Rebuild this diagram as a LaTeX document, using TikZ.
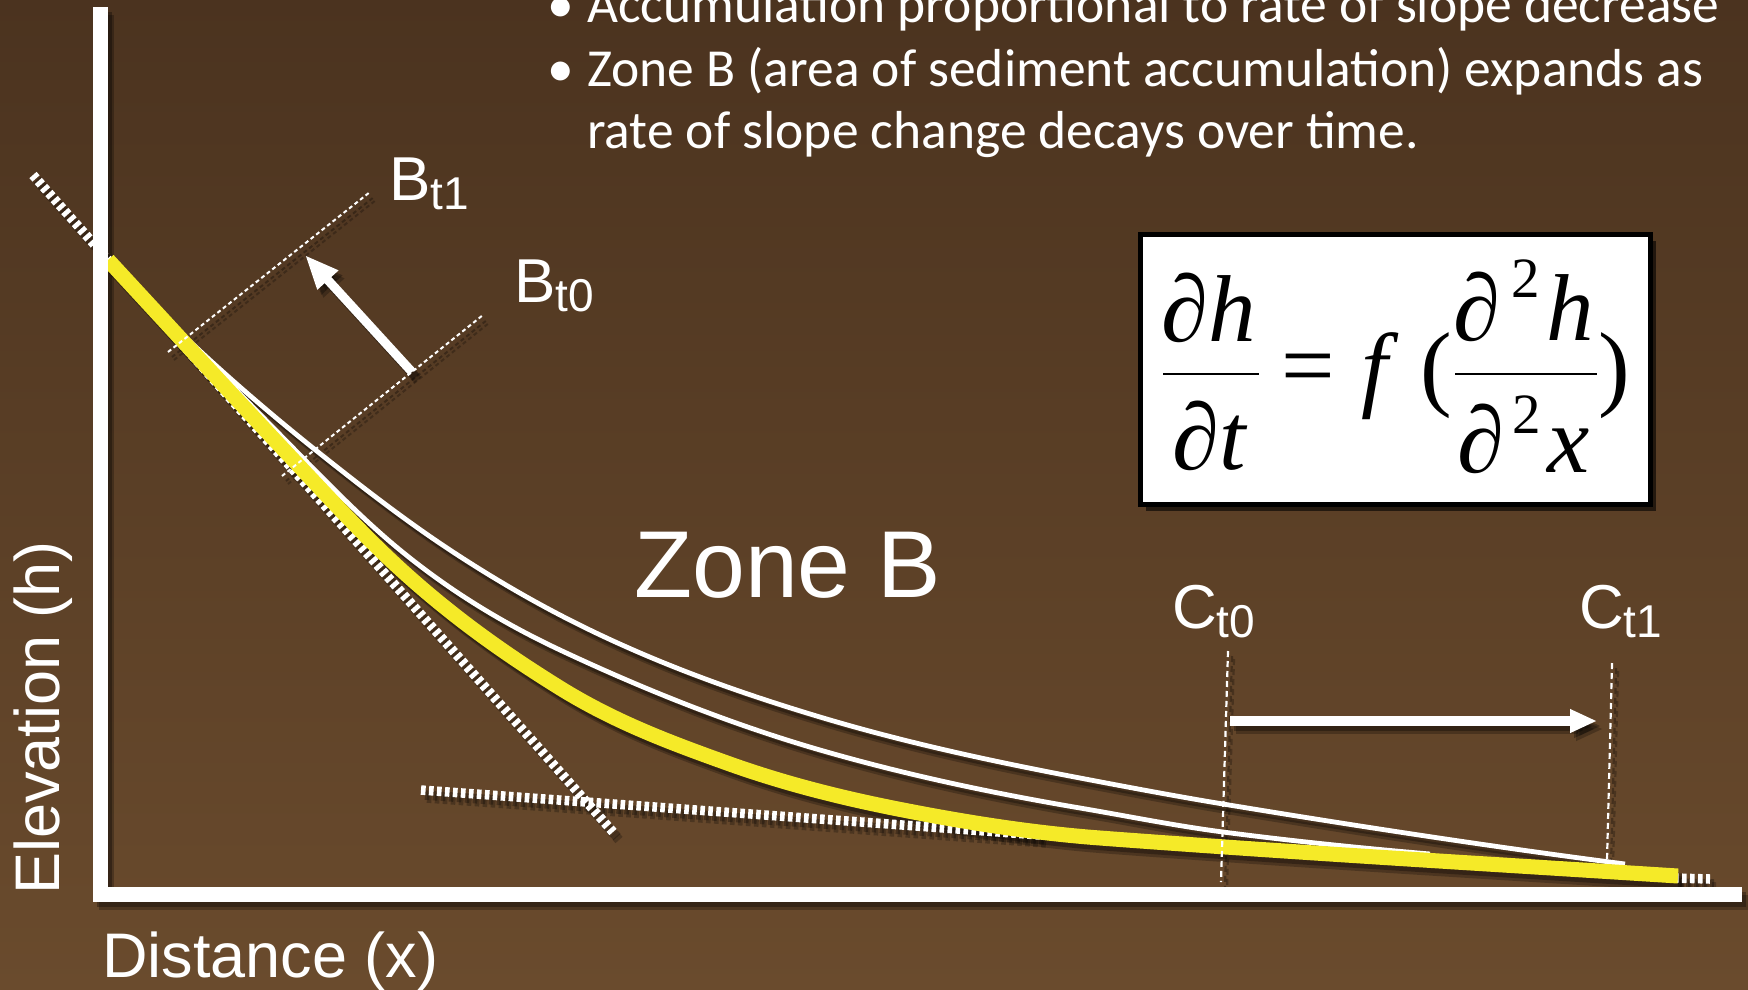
\documentclass[tikz,border=0pt]{standalone}
\usepackage{fontspec}
\setmainfont{Liberation Sans}
\newfontfamily\bulletfont{Carlito}
\newfontfamily\eqfont{Liberation Serif}
\usetikzlibrary{arrows.meta,shadows}
\definecolor{bgtop}{RGB}{75,51,31}
\definecolor{bgbot}{RGB}{106,75,45}
\definecolor{slopeyellow}{RGB}{245,234,40}
\colorlet{lw}{white}
\colorlet{ly}{slopeyellow}
\newcommand\lblsub[1]{\raisebox{-9pt}{\fontsize{46}{46}\selectfont #1}}
\newcommand\scenelines{%
  \draw[hatchline] (h1a) -- (h1b);
  \draw[hatchline] (h2a) -- (h2b);
  \draw[hatchline] (h3a) -- (h3b);
  \draw[profile] (183,335) .. controls (226.33,376.2) and (269.67,413.3) .. (313,448)
     .. controls (358.67,484.5) and (404.33,519.9) .. (450,550)
     .. controls (486.67,574.2) and (523.33,595.9) .. (560,615)
     .. controls (646.67,660.1) and (733.33,691) .. (820,717)
     .. controls (906.67,743) and (993.33,761.5) .. (1080,778)
     .. controls (1127.67,787.1) and (1175.33,796.1) .. (1223,804)
     .. controls (1357,826.1) and (1491,846.6) .. (1625,864);
  \draw[profile] (183,335) .. controls (222,376) and (261,415.2) .. (300,455)
     .. controls (333.33,489) and (366.67,522.7) .. (400,550)
     .. controls (453.33,593.7) and (506.67,624.9) .. (560,650)
     .. controls (646.67,690.7) and (733.33,724.9) .. (820,750)
     .. controls (906.67,775.1) and (993.33,793.3) .. (1080,808)
     .. controls (1127.67,816.1) and (1175.33,825.8) .. (1223,832)
     .. controls (1292,841) and (1361,848.1) .. (1430,854);
  \draw[yellowline] (108,260) .. controls (172,329.1) and (236,399.2) .. (300,467)
     .. controls (326.67,495.3) and (353.33,524.1) .. (380,550)
     .. controls (440,608.2) and (500,650.8) .. (560,688)
     .. controls (615.67,722.5) and (671.33,743) .. (727,763)
     .. controls (782.33,782.9) and (837.67,796.9) .. (893,808)
     .. controls (962,821.8) and (1031,832.8) .. (1100,838)
     .. controls (1292.67,852.45) and (1485.33,863.7) .. (1678,876);
  \draw[axisline] (100,7) -- (100,894) -- (1742,894);
  \draw[dotline] (bt1a) -- (bt1b);
  \draw[dotline] (bt0a) -- (bt0b);
  \draw[slantarrow] (barrs) -- (barre);
  \draw[vdash] (ct0a) -- (ct0b);
  \draw[vdash] (ct1a) -- (ct1b);
  \draw[bigarrow] (carrs) -- (carre);
}
\begin{document}
\begin{tikzpicture}[x=1pt,y=-1pt,
  hatchline/.style={draw=lw,line width=9.5pt,dash pattern=on 4.6pt off 3.4pt},
  dotline/.style={draw=lw,line width=2pt,dash pattern=on 4pt off 3pt},
  vdash/.style={draw=lw,line width=2.2pt,dash pattern=on 6pt off 4pt},
  profile/.style={draw=lw,line width=4.8pt},
  yellowline/.style={draw=ly,line width=15pt},
  axisline/.style={draw=lw,line width=15pt},
  bigarrow/.style={draw=lw,line width=10pt,-{Triangle[length=27pt,width=22pt]}},
  slantarrow/.style={draw=lw,line width=9pt,-{Triangle[length=34pt,width=26pt]}},
  lbl/.style={text=white,inner sep=0pt,font=\fontsize{62}{72}\selectfont},
  axislbl/.style={text=white,inner sep=0pt,font=\fontsize{63}{75}\selectfont},
  zonelbl/.style={text=white,inner sep=0pt,font=\fontsize{95}{110}\selectfont},
  bul/.style={text=white,inner sep=0pt,font=\bulletfont\fontsize{53.5}{64}\selectfont},
  eq/.style={text=black,inner sep=0pt,font=\eqfont\fontsize{95}{100}\selectfont},
  eqsup/.style={text=black,inner sep=0pt,font=\eqfont\fontsize{57}{60}\selectfont},
]
% background
\shade[top color=bgtop,bottom color=bgbot] (0,0) rectangle (1748,989);
\useasboundingbox (0,0) rectangle (1748,989);

% named points
\coordinate (h1a) at (33,175);
\coordinate (h1b) at (613,832);
\coordinate (h2a) at (421,790);
\coordinate (h2b) at (1040,835);
\coordinate (h3a) at (1674,878);
\coordinate (h3b) at (1710,879);
\coordinate (bt1a) at (168,352);
\coordinate (bt1b) at (370,192);
\coordinate (bt0a) at (282,476);
\coordinate (bt0b) at (483,315);
\coordinate (barrs) at (412,372);
\coordinate (barre) at (305,255);
\coordinate (ct0a) at (1228,651);
\coordinate (ct0b) at (1221,882);
\coordinate (ct1a) at (1612,663);
\coordinate (ct1b) at (1607,860);
\coordinate (carrs) at (1230,721);
\coordinate (carre) at (1597,721);

% soft shadows (two passes)
\begin{scope}[transform canvas={shift={(6,8)}},opacity=0.25]
  \colorlet{lw}{black}\colorlet{ly}{black}
  \scenelines
\end{scope}
\begin{scope}[transform canvas={shift={(4,5)}},opacity=0.3]
  \colorlet{lw}{black}\colorlet{ly}{black}
  \scenelines
\end{scope}
% lines
\scenelines

% labels
\node[lbl,anchor=base west] (bt1) at (389,200) {B\lblsub{t1}};
\node[lbl,anchor=base west] (bt0) at (514,302) {B\lblsub{t0}};
\node[lbl,anchor=base west] (ct0) at (1172,628) {C\lblsub{t0}};
\node[lbl,anchor=base west] (ct1) at (1579,628) {C\lblsub{t1}};
\node[zonelbl,anchor=base west] (zone) at (634,597) {Zone B};
\node[axislbl,anchor=base west] (dist) at (102,977) {Distance (x)};
\node[axislbl,anchor=base west,rotate=90] (elev) at (59,895) {Elevation (h)};

% bullets
\node[bul,anchor=base] (b1) at (561,22) {•};
\node[bul,anchor=base west] (l1) at (587,22) {Accumulation proportional to rate of slope decrease};
\node[bul,anchor=base] (b2) at (561,86) {•};
\node[bul,anchor=base west] (l2) at (587,86) {Zone B (area of sediment accumulation) expands as};
\node[bul,anchor=base west] (l3) at (587,148) {rate of slope change decays over time.};

% equation box
\node[draw=black,line width=5pt,fill=white,inner sep=0pt,minimum width=510pt,minimum height=270pt,
  drop shadow={shadow xshift=5pt,shadow yshift=-6pt,opacity=0.6,fill=black}] (box) at (1395.5,369.5) {};
\draw[line width=2pt] (1163,374) -- (1259,374);
\draw[line width=2pt] (1455,374) -- (1597,374);
\node[eq,anchor=base] (n1) at (1209,341) {\textit{∂h}};
\node[eq,anchor=base] (d1) at (1210,469) {\textit{∂t}};
\node[eq,anchor=base] (eqs) at (1308,397) {=};
\node[eq,anchor=base] (ff) at (1380,399) {\textit{f}};
\node[eq,anchor=base] (lp) at (1436,398) {(};
\node[eq,anchor=base] (rp) at (1614,398) {)};
\node[eq,anchor=base] (n2a) at (1477,340) {\textit{∂}};
\node[eqsup,anchor=base] (n2b) at (1526,297) {2};
\node[eq,anchor=base] (n2c) at (1570,340) {\textit{h}};
\node[eq,anchor=base] (d2a) at (1481,472) {\textit{∂}};
\node[eqsup,anchor=base] (d2b) at (1527,433) {2};
\node[eq,anchor=base] (d2c) at (1569,472) {\textit{x}};
\end{tikzpicture}
\end{document}
